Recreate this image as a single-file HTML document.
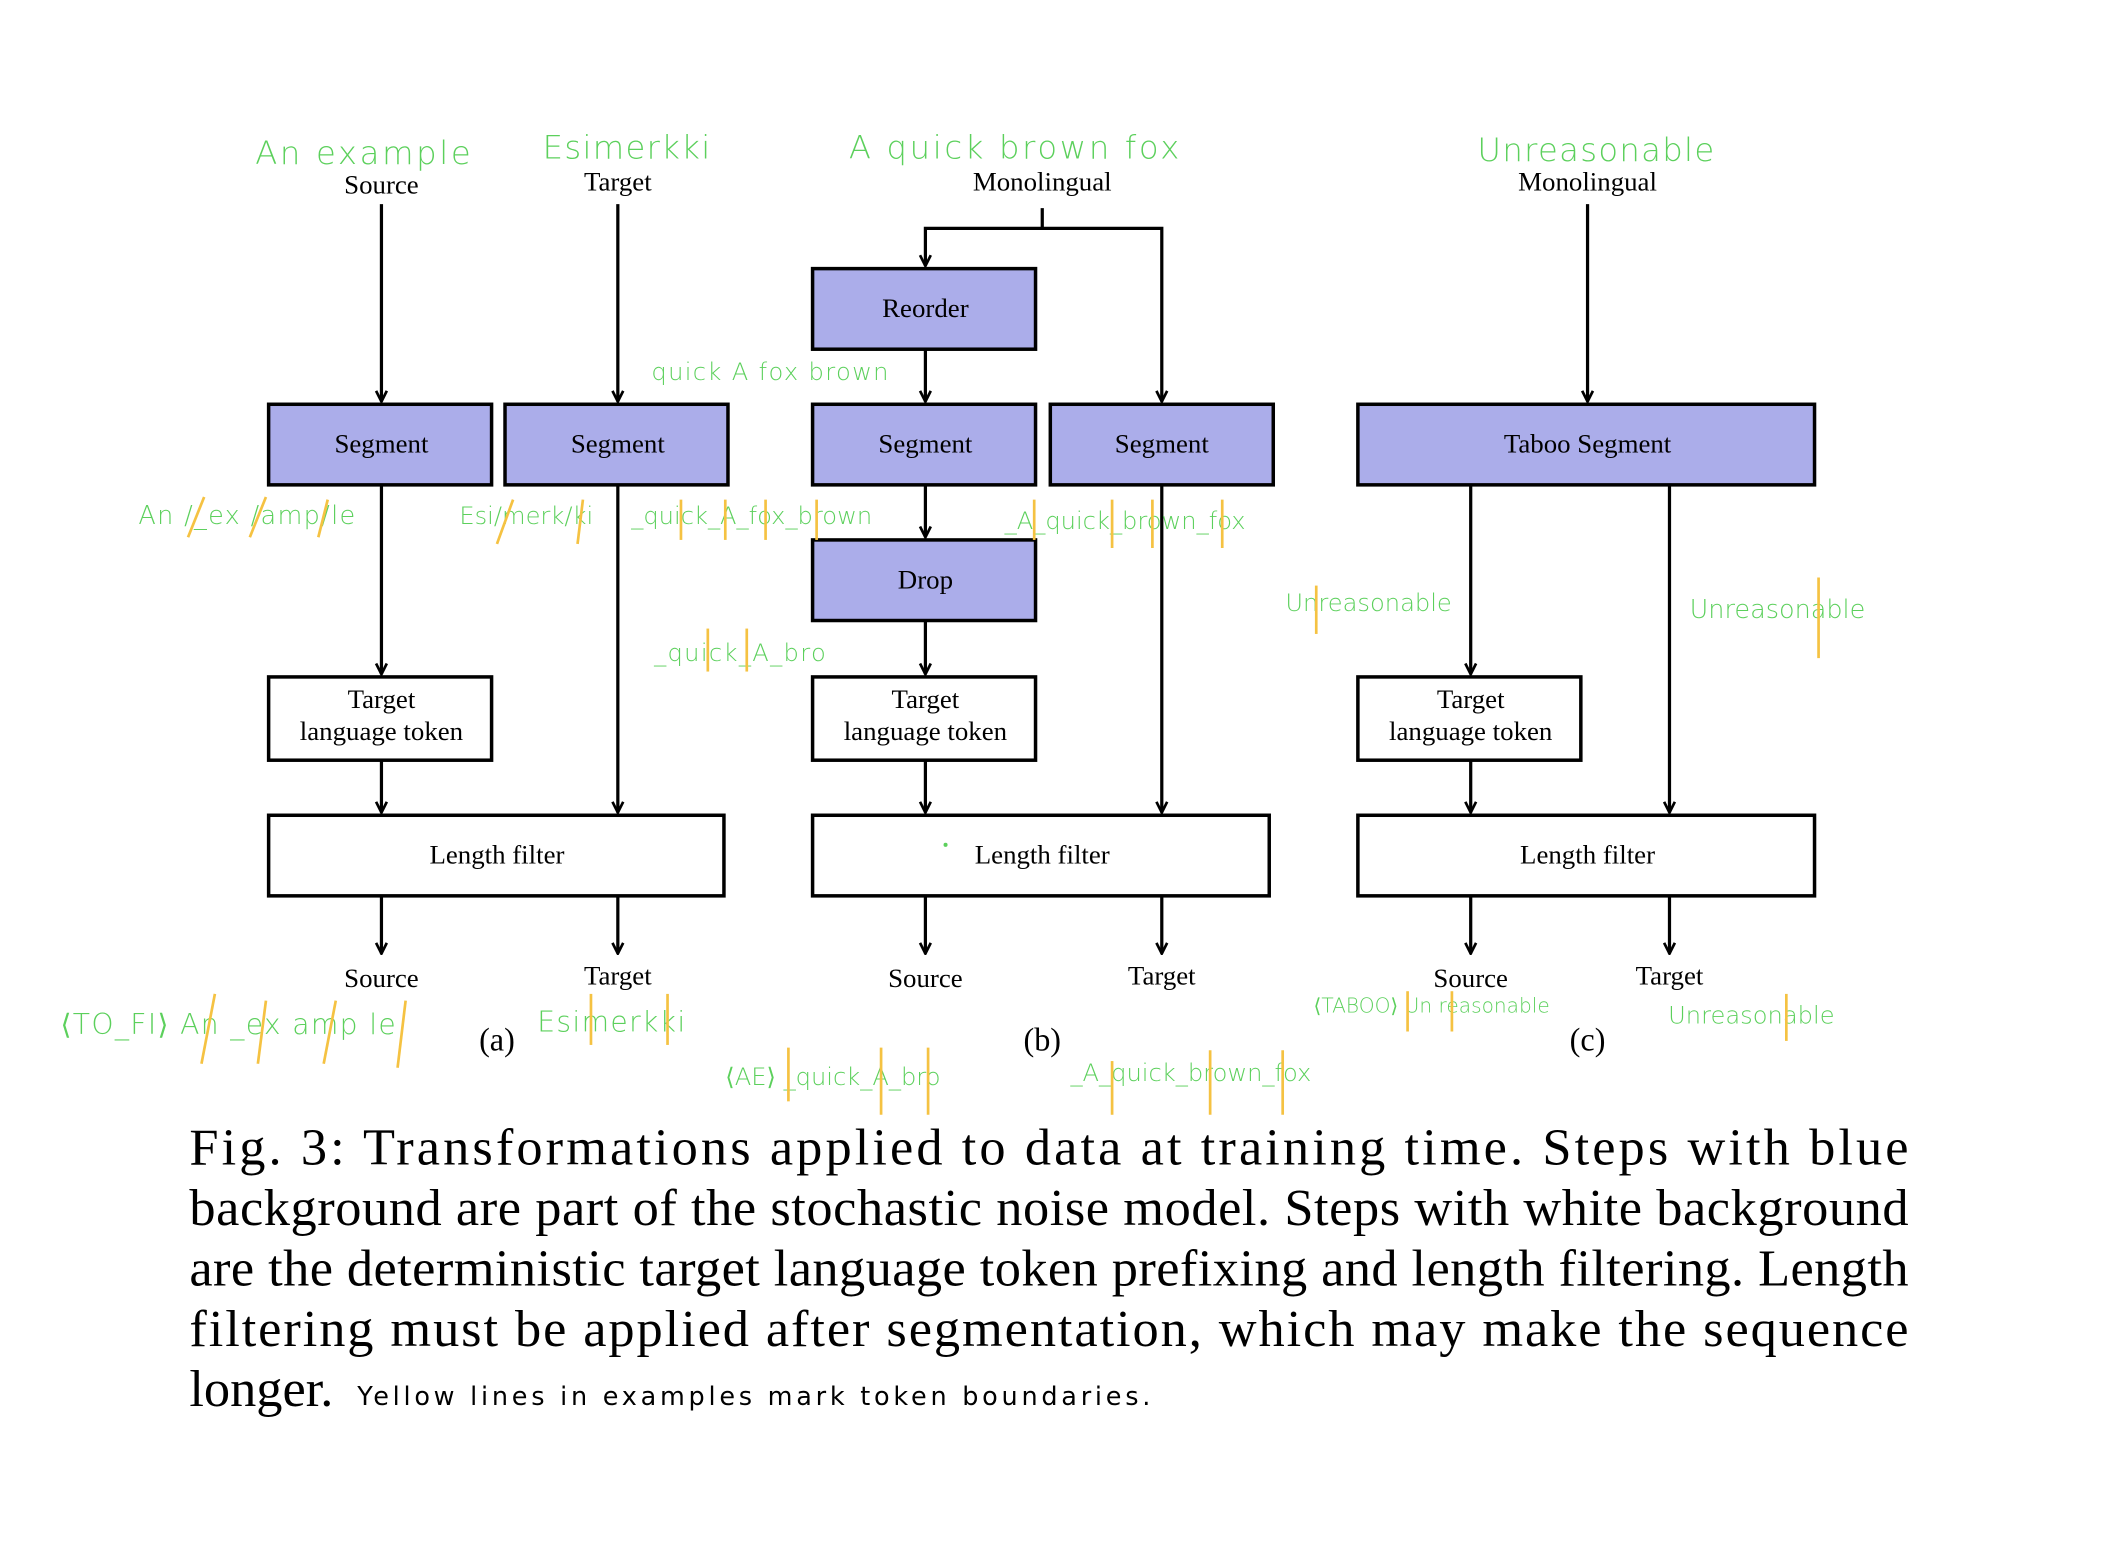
<!DOCTYPE html>
<html><head><meta charset="utf-8"><style>
html,body{margin:0;padding:0;background:#fff}
svg{display:block}
.t{font-family:"Liberation Serif",serif;font-size:20px;fill:#000;text-anchor:middle}
.g{font-family:"DejaVu Sans",sans-serif;fill:#5cd05c;font-weight:300}
.cap{font-family:"Liberation Serif",serif;font-size:39px;fill:#000}
</style></head><body>
<svg width="2106" height="1567" viewBox="0 0 1568 1166.7" xmlns="http://www.w3.org/2000/svg">
<defs><marker id="a" markerWidth="10" markerHeight="10" refX="9" refY="5" orient="auto" markerUnits="userSpaceOnUse"><path d="M1,1 L9,5 L1,9" fill="none" stroke="#000" stroke-width="2"/></marker></defs>
<g fill="#abadea" stroke="#000" stroke-width="2.6">
<rect x="200" y="301" width="166" height="60"/><rect x="376" y="301" width="166" height="60"/>
<rect x="605" y="200" width="166" height="60"/><rect x="605" y="301" width="166" height="60"/>
<rect x="782" y="301" width="166" height="60"/><rect x="605" y="402" width="166" height="60"/>
<rect x="1011" y="301" width="340" height="60"/>
</g>
<g fill="#fff" stroke="#000" stroke-width="2.6">
<rect x="200" y="504" width="166" height="62"/><rect x="605" y="504" width="166" height="62"/><rect x="1011" y="504" width="166" height="62"/>
<rect x="200" y="607" width="339" height="60"/><rect x="605" y="607" width="340" height="60"/><rect x="1011" y="607" width="340" height="60"/>
</g>
<g stroke="#000" stroke-width="2.4" fill="none" marker-end="url(#a)">
<path d="M284 152V299"/><path d="M460 152V299"/><path d="M284 361V502"/><path d="M460 361V605"/>
<path d="M284 566V605"/><path d="M284 667V710"/><path d="M460 667V710"/>
<path d="M776 155V170H689V198"/><path d="M776 170H865V299"/>
<path d="M689 260V299"/><path d="M689 361V400"/><path d="M689 462V502"/><path d="M689 566V605"/>
<path d="M865 361V605"/><path d="M689 667V710"/><path d="M865 667V710"/>
<path d="M1182 152V299"/><path d="M1095 361V502"/><path d="M1243 361V605"/><path d="M1095 566V605"/>
<path d="M1095 667V710"/><path d="M1243 667V710"/>
</g>
<g class="t">
<text x="284" y="144">Source</text><text x="460" y="142">Target</text>
<text x="776" y="142">Monolingual</text><text x="1182" y="142">Monolingual</text>
<text x="284" y="337">Segment</text><text x="460" y="337">Segment</text>
<text x="689" y="236">Reorder</text><text x="689" y="337">Segment</text><text x="865" y="337">Segment</text>
<text x="689" y="438">Drop</text><text x="1182" y="337">Taboo Segment</text>
<text x="284" y="527">Target</text><text x="284" y="551">language token</text>
<text x="689" y="527">Target</text><text x="689" y="551">language token</text>
<text x="1095" y="527">Target</text><text x="1095" y="551">language token</text>
<text x="370" y="643">Length filter</text><text x="776" y="643">Length filter</text><text x="1182" y="643">Length filter</text>
<text x="284" y="735">Source</text><text x="460" y="733">Target</text>
<text x="689" y="735">Source</text><text x="865" y="733">Target</text>
<text x="1095" y="735">Source</text><text x="1243" y="733">Target</text>
<text x="370" y="782" font-size="24">(a)</text><text x="776" y="782" font-size="24">(b)</text><text x="1182" y="782" font-size="24">(c)</text>
</g>
<g class="g">
<text x="190" y="122" font-size="24" letter-spacing="2">An example</text>
<text x="404" y="118" font-size="24" letter-spacing="1">Esimerkki</text>
<text x="632" y="118" font-size="24" letter-spacing="2">A quick brown fox</text>
<text x="1100" y="120" font-size="24" letter-spacing="1">Unreasonable</text>
<text x="485" y="283" font-size="18" letter-spacing="1">quick A fox brown</text>
<text x="103" y="390" font-size="19" letter-spacing="1">An /_ex /amp/le</text>
<text x="342" y="390" font-size="18">Esi/merk/ki</text>
<text x="470" y="390" font-size="18">_quick_A_fox_brown</text>
<text x="748" y="394" font-size="18">_A_quick_brown_fox</text>
<text x="487" y="492" font-size="18" letter-spacing="1">_quick_A_bro</text>
<text x="957" y="455" font-size="18">Unreasonable</text>
<text x="1258" y="460" font-size="19">Unreasonable</text>
<text x="45" y="770" font-size="21" letter-spacing="1">⟨TO_FI⟩ An _ex amp le</text>
<text x="400" y="768" font-size="21" letter-spacing="1">Esimerkki</text>
<text x="540" y="808" font-size="18">⟨AE⟩ _quick_A_bro</text>
<text x="797" y="805" font-size="18">_A_quick_brown_fox</text>
<text x="978" y="754" font-size="15">⟨TABOO⟩ Un reasonable</text>
<text x="1242" y="762" font-size="18">Unreasonable</text>
<circle cx="704" cy="629" r="1.5" fill="#5cd05c"/>
</g>
<g stroke="#f5c242" stroke-width="2">
<path d="M140 400L152 370"/><path d="M186 400L198 370"/><path d="M237 400L244 372"/>
<path d="M370 405L382 372"/><path d="M430 405L434 372"/>
<path d="M507 402V372"/><path d="M540 402V372"/><path d="M570 402V372"/><path d="M608 402V372"/>
<path d="M770 402V372"/><path d="M828 408V372"/><path d="M858 408V372"/><path d="M910 408V372"/>
<path d="M527 500V468"/><path d="M556 500V468"/>
<path d="M980 472V436"/><path d="M1354 490V430"/>
<path d="M150 792L160 740"/><path d="M192 792L198 745"/><path d="M241 792L250 745"/><path d="M296 795L302 745"/>
<path d="M440 778V740"/><path d="M497 778V740"/>
<path d="M587 820V780"/><path d="M656 830V780"/><path d="M691 830V780"/>
<path d="M828 830V790"/><path d="M901 830V782"/><path d="M955 830V782"/>
<path d="M1048 768V738"/><path d="M1081 768V738"/><path d="M1330 775V740"/>
</g>
<g class="cap">
<text x="141" y="867" textLength="1280" lengthAdjust="spacing">Fig. 3: Transformations applied to data at training time. Steps with blue</text>
<text x="141" y="912" textLength="1280" lengthAdjust="spacing">background are part of the stochastic noise model. Steps with white background</text>
<text x="141" y="957" textLength="1280" lengthAdjust="spacing">are the deterministic target language token prefixing and length filtering. Length</text>
<text x="141" y="1002" textLength="1280" lengthAdjust="spacing">filtering must be applied after segmentation, which may make the sequence</text>
<text x="141" y="1047">longer.</text>
</g>
<text x="266" y="1046" font-family="DejaVu Sans,sans-serif" font-size="19" fill="#000" letter-spacing="1.5" textLength="592" lengthAdjust="spacing">Yellow lines in examples mark token boundaries.</text>
</svg>
</body></html>
